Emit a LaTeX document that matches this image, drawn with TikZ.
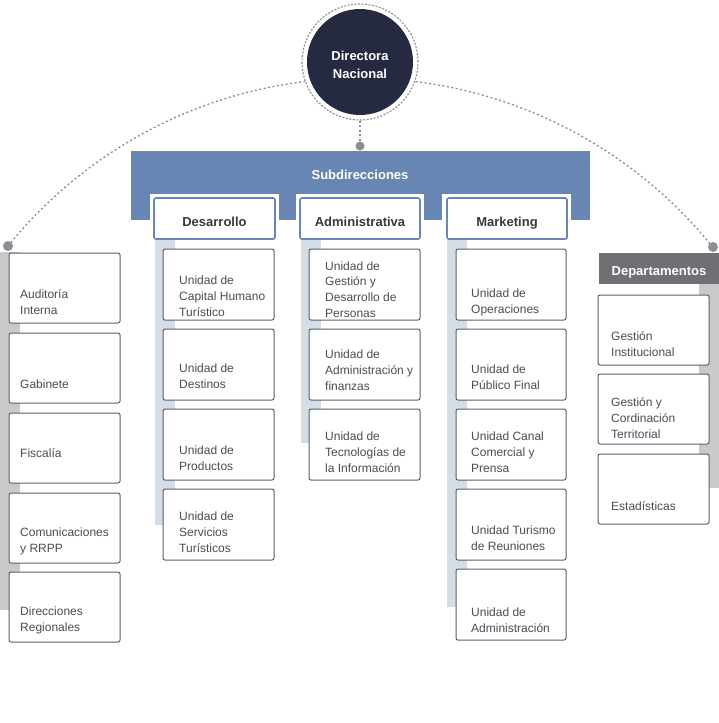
\documentclass[tikz,border=0pt]{standalone}
\usepackage{fontspec}
\setmainfont{Liberation Sans}
\usetikzlibrary{fit}
\definecolor{navy}{HTML}{262A40}
\definecolor{ringgrey}{HTML}{8C8D95}
\definecolor{subblue}{HTML}{6886B4}
\definecolor{tabtext}{HTML}{363944}
\definecolor{boxline}{HTML}{5C5E6A}
\definecolor{boxtext}{HTML}{4A4D57}
\definecolor{colbar}{HTML}{D5DEE7}
\definecolor{sidebar}{HTML}{C9C9CA}
\definecolor{deptgrey}{HTML}{6F7073}
\begin{document}
\begin{tikzpicture}[x=1pt,y=-1pt,
 unitbox/.style={draw=boxline, line width=1pt, fill=white, rounded corners=2pt, inner sep=0pt},
 utext/.style={anchor=west, align=left, text=boxtext, font=\fontsize{12}{15.8}\selectfont, inner sep=0pt},
 tabbox/.style={draw=subblue, line width=1.6pt, fill=white, rounded corners=2pt, inner sep=0pt},
 tabtxt/.style={anchor=base, text=tabtext, font=\bfseries\fontsize{13}{16}\selectfont, inner sep=0pt},
 arcline/.style={draw=ringgrey, line width=1.3pt, dash pattern=on 2pt off 2.5pt},
 dotnode/.style={circle, fill=ringgrey, inner sep=0pt, minimum size=10pt}]
\useasboundingbox (0,0) rectangle (719,723);

% dots
\coordinate (lpos) at (8,246);
% big arc
\draw[arcline] (lpos) arc[start angle=141, end angle=39, radius=452.8pt];

% director
\node[circle, draw=ringgrey, line width=1.1pt, dash pattern=on 2pt off 1.5pt, fill=white, minimum size=116pt, inner sep=0pt] (ring) at (360,62) {};
\node[circle, fill=navy, minimum size=106pt, inner sep=0pt] (dir) at (360,62) {};
\node[text=white, align=center, inner sep=0pt,
  font=\bfseries\fontsize{13}{18}\selectfont] (dirt) at (360,64.5) {Directora\\Nacional};
\node[dotnode, minimum size=9pt] (sdot) at (360,146) {};
\draw[arcline] (ring.south) -- (sdot.north);

% subdirecciones
\node[fill=subblue, inner sep=0pt, fit={(131,151) (590,220)}] (sub) {};
\node[text=white, font=\bfseries\fontsize{13}{16}\selectfont, anchor=base, inner sep=0pt] (subt) at (360,179.5) {Subdirecciones};

% white surrounds of tabs
\fill[white] (150,194) rectangle (279,241);
\fill[white] (296,194) rectangle (424,241);
\fill[white] (442,194) rectangle (571,241);

% column bars
\fill[colbar] (155,239) rectangle (175,525);
\fill[colbar] (301,239) rectangle (321,443);
\fill[colbar] (447,239) rectangle (467,607);
\fill[sidebar] (0,252) rectangle (20,610);
\fill[sidebar] (699,284) rectangle (719,488);

% tabs
\node[tabbox, fit={(154,198) (275,239)}] (des) {};
\node[tabbox, fit={(300,198) (420,239)}] (adm) {};
\node[tabbox, fit={(447,198) (567,239)}] (mkt) {};
\node[tabtxt] (dest) at (214.5,226.5) {Desarrollo};
\node[tabtxt] (admt) at (360,226.5) {Administrativa};
\node[tabtxt] (mktt) at (507,226.5) {Marketing};

% left column
\node[unitbox, fit={(9,253) (120,323)}] (l1) {};
\node[unitbox, fit={(9,333) (120,403)}] (l2) {};
\node[unitbox, fit={(9,413) (120,483)}] (l3) {};
\node[unitbox, fit={(9,493) (120,563)}] (l4) {};
\node[unitbox, fit={(9,572) (120,642)}] (l5) {};
\node[utext] (l1t) at (20,302) {Auditoría\\Interna};
\node[utext] (l2t) at (20,384.5) {Gabinete};
\node[utext] (l3t) at (20,453.5) {Fiscalía};
\node[utext] (l4t) at (20,541) {Comunicaciones\\y RRPP};
\node[utext] (l5t) at (20,620.5) {Direcciones\\Regionales};

% Desarrollo
\node[unitbox, fit={(163,249) (274,320)}] (d1) {};
\node[unitbox, fit={(163,329) (274,400)}] (d2) {};
\node[unitbox, fit={(163,409) (274,480)}] (d3) {};
\node[unitbox, fit={(163,489) (274,560)}] (d4) {};
\node[utext] (d1t) at (179,296) {Unidad de\\Capital Humano\\Turístico};
\node[utext] (d2t) at (179,376.5) {Unidad de\\Destinos};
\node[utext] (d3t) at (179,458.5) {Unidad de\\Productos};
\node[utext] (d4t) at (179,532) {Unidad de\\Servicios\\Turísticos};

% Administrativa
\node[unitbox, fit={(309,249) (420,320)}] (a1) {};
\node[unitbox, fit={(309,329) (420,400)}] (a2) {};
\node[unitbox, fit={(309,409) (420,480)}] (a3) {};
\node[utext] (a1t) at (325,289.5) {Unidad de\\Gestión y\\Desarrollo de\\Personas};
\node[utext] (a2t) at (325,370.5) {Unidad de\\Administración y\\finanzas};
\node[utext] (a3t) at (325,452.5) {Unidad de\\Tecnologías de\\la Información};

% Marketing
\node[unitbox, fit={(456,249) (566,320)}] (m1) {};
\node[unitbox, fit={(456,329) (566,400)}] (m2) {};
\node[unitbox, fit={(456,409) (566,480)}] (m3) {};
\node[unitbox, fit={(456,489) (566,560)}] (m4) {};
\node[unitbox, fit={(456,569) (566,640)}] (m5) {};
\node[utext] (m1t) at (471,302) {Unidad de\\Operaciones};
\node[utext] (m2t) at (471,377) {Unidad de\\Público Final};
\node[utext] (m3t) at (471,452.5) {Unidad Canal\\Comercial y\\Prensa};
\node[utext] (m4t) at (471,538.5) {Unidad Turismo\\de Reuniones};
\node[utext] (m5t) at (471,620.5) {Unidad de\\Administración};

% Departamentos
\node[fill=deptgrey, inner sep=0pt, fit={(599,253) (719,284)}] (dep) {};
\node[text=white, font=\bfseries\fontsize{13}{16}\selectfont, anchor=base, inner sep=0pt] (dept) at (659,275.5) {Departamentos};
\node[unitbox, fit={(598,295) (709,365)}] (g1) {};
\node[unitbox, fit={(598,374) (709,444)}] (g2) {};
\node[unitbox, fit={(598,454) (709,524)}] (g3) {};
\node[utext] (g1t) at (611,344.5) {Gestión\\Institucional};
\node[utext] (g2t) at (611,418) {Gestión y\\Cordinación\\Territorial};
\node[utext] (g3t) at (611,506.5) {Estadísticas};

% end dots
\node[dotnode] (ldot) at (lpos) {};
\node[dotnode] (rdot) at (713,247) {};
\end{tikzpicture}
\end{document}
